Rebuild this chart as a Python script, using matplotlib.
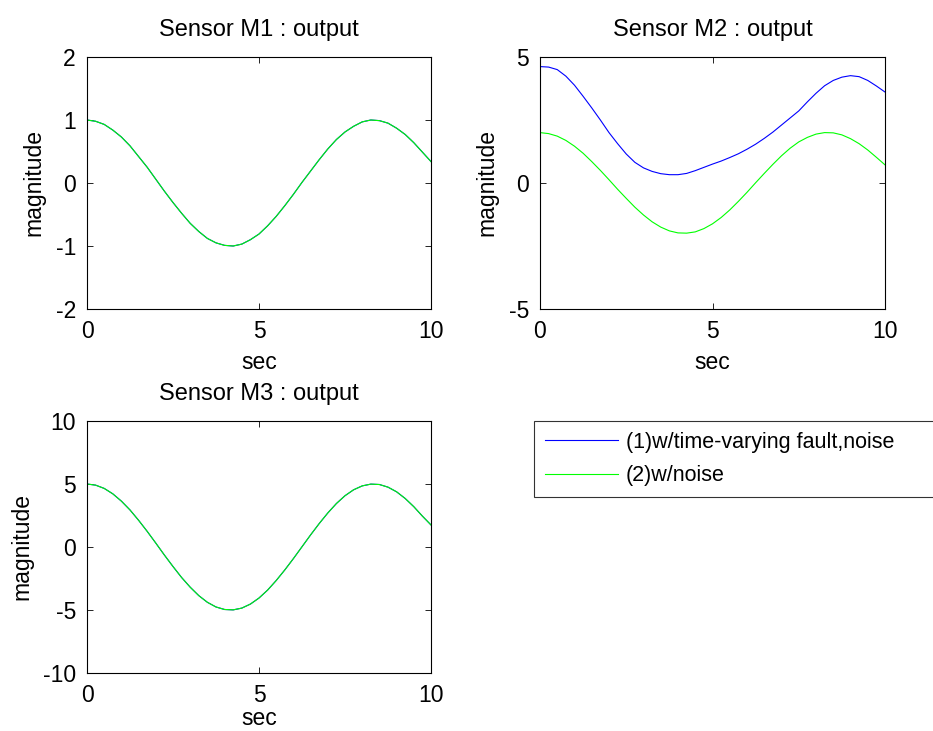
import numpy as np
import matplotlib.pyplot as plt

plt.rcParams['font.family'] = ['Liberation Sans', 'DejaVu Sans']
plt.rcParams['axes.unicode_minus'] = False

# time axis (sec), read at 0.25 s steps
t = np.arange(0, 10.01, 0.25)

# Sensor M1 output (fault-free and noisy traces overlap)
m1_noise = [1.00, 0.98, 0.93, 0.84, 0.73, 0.59, 0.42, 0.25, 0.06, -0.13, -0.31,
            -0.48, -0.64, -0.77, -0.88, -0.95, -0.99, -1.00, -0.97, -0.90, -0.81,
            -0.68, -0.53, -0.36, -0.18, 0.01, 0.19, 0.37, 0.54, 0.69, 0.81,
            0.90, 0.97, 1.00, 0.99, 0.95, 0.87, 0.77, 0.64, 0.49, 0.34]
m1_fault = m1_noise

# Sensor M2 output
m2_fault = [4.62, 4.60, 4.50, 4.24, 3.88, 3.44, 2.98, 2.50, 2.00, 1.56, 1.15,
            0.82, 0.60, 0.46, 0.37, 0.33, 0.33, 0.38, 0.49, 0.62, 0.75,
            0.87, 1.01, 1.16, 1.34, 1.54, 1.77, 2.02, 2.30, 2.58, 2.86,
            3.22, 3.56, 3.86, 4.07, 4.20, 4.26, 4.22, 4.07, 3.85, 3.61]
m2_noise = [2.00, 1.96, 1.86, 1.69, 1.46, 1.18, 0.85, 0.50, 0.13, -0.25, -0.61,
            -0.96, -1.27, -1.54, -1.75, -1.90, -1.98, -1.99, -1.94, -1.81, -1.62,
            -1.37, -1.07, -0.73, -0.37, 0.01, 0.38, 0.74, 1.08, 1.38, 1.63,
            1.81, 1.94, 2.00, 1.99, 1.91, 1.76, 1.56, 1.31, 1.02, 0.72]

# Sensor M3 output (traces overlap)
m3_noise = [5.00, 4.91, 4.65, 4.22, 3.64, 2.94, 2.12, 1.24, 0.31, -0.64, -1.55,
            -2.42, -3.19, -3.86, -4.39, -4.76, -4.96, -4.99, -4.85, -4.53, -4.05,
            -3.42, -2.66, -1.82, -0.92, 0.02, 0.96, 1.86, 2.70, 3.45, 4.07,
            4.54, 4.85, 4.99, 4.96, 4.75, 4.38, 3.85, 3.20, 2.45, 1.75]
m3_fault = m3_noise

titles = ['Sensor M1 : output', 'Sensor M2 : output', 'Sensor M3 : output']
ylims = [(-2, 2), (-5, 5), (-10, 10)]
yticks = [[-2, -1, 0, 1, 2], [-5, 0, 5], [-10, -5, 0, 5, 10]]
legend_labels = ['(1)w/time-varying fault,noise', '(2)w/noise']

W, H = 933, 731
fig = plt.figure(figsize=(W / 100, H / 100), dpi=100)

def px_axes(l, t_, r, b):
    return fig.add_axes([l / W, 1 - b / H, (r - l) / W, (b - t_) / H])

axes = [px_axes(87, 57, 431, 309), px_axes(540, 57, 885, 309), px_axes(87, 421, 431, 673)]
series = [(m1_fault, m1_noise), (m2_fault, m2_noise), (m3_fault, m3_noise)]
xlabel_pads = [6, 6, 0]  # bottom panel label sits right at the figure edge

handles = None
for ax, title, yl, yt, (fault, noise), lp in zip(axes, titles, ylims, yticks, series, xlabel_pads):
    h1, = ax.plot(t, fault, color=(0, 0, 1), lw=0.8)
    h2, = ax.plot(t, noise, color=(0, 1, 0), lw=0.8)
    handles = [h1, h2]
    ax.set_xlim(0, 10)
    ax.set_ylim(*yl)
    ax.set_xticks([0, 5, 10])
    ax.set_yticks(yt)
    ax.tick_params(direction='in', top=True, right=True, length=4, width=0.6,
                   labelsize=16.5, pad=8)
    for s in ax.spines.values():
        s.set_linewidth(0.8)
    ax.set_title(title, fontsize=17, pad=15)
    ax.set_xlabel('sec', fontsize=16.5, labelpad=lp)
    ax.set_ylabel('magnitude', fontsize=16.5, labelpad=7)

# legend box in the empty fourth slot
lax = px_axes(534, 420, 934, 498)
lax.axis('off')
leg = lax.legend(handles, legend_labels, loc='center', bbox_to_anchor=(0, 0, 1, 1),
                 mode='expand', fontsize=15.5, frameon=True, fancybox=False,
                 handlelength=3.4, handletextpad=0.37, borderpad=0.5,
                 labelspacing=0.6, borderaxespad=0)
leg.get_frame().set_edgecolor('black')
leg.get_frame().set_linewidth(0.8)

fig.savefig('out.png', dpi=100)
